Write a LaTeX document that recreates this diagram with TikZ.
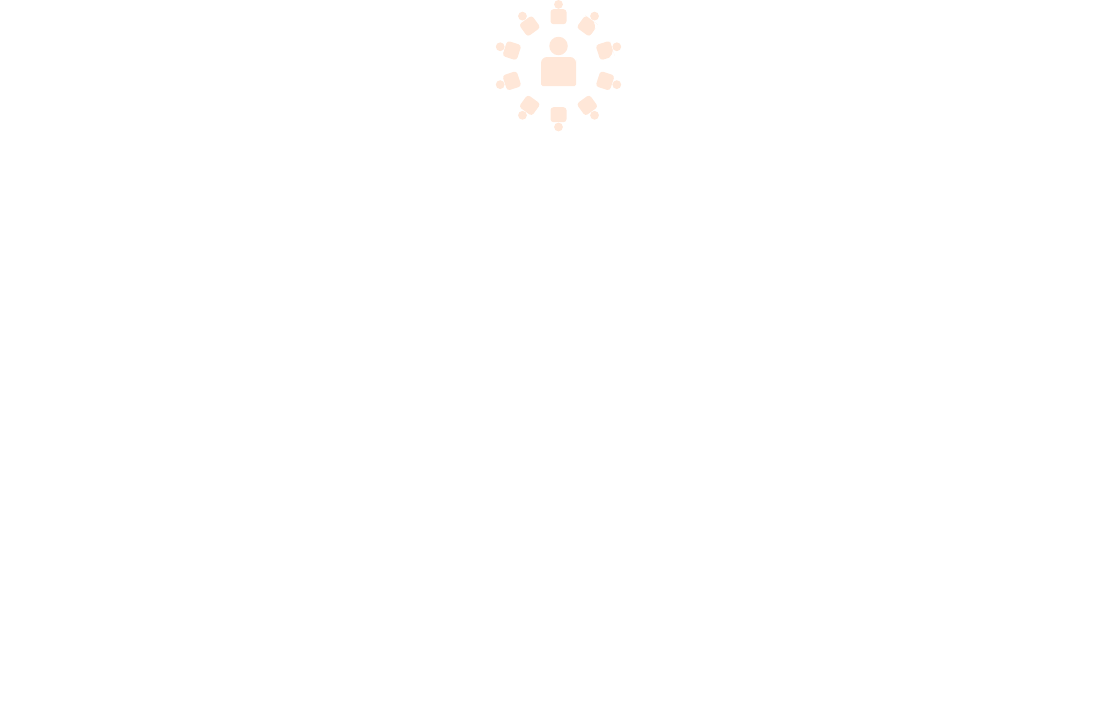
\documentclass[tikz,border=0pt]{standalone}
\definecolor{peach}{HTML}{FFE7D8}
\tikzset{
  bighead/.style={circle, fill=peach, inner sep=0pt, minimum size=18.5pt},
  smallhead/.style={circle, fill=peach, inner sep=0pt, minimum size=8.8pt},
  every path/.style={line width=0pt}
}
\begin{document}
\begin{tikzpicture}[x=1pt, y=1pt]
  \useasboundingbox (0,-712) rectangle (1112,0);
  \begin{scope}[shift={(558.5,-65.7)}]
    \node[bighead] (mainhead) at (0,19.7) {};
    \fill[peach] [rounded corners=1.5pt] (-17.5,-20.3) -- (-17.5,-12) [rounded corners=6pt] -- (-17.5,8.7) -- (17.5,8.7) -- (17.5,0) [rounded corners=1.5pt] -- (17.5,-20.3) -- cycle;
    \foreach \ang/\rad in {90/3, 54/8, 18/8, -18/3, -54/3, -90/3, -126/3, -162/3, 162/3, 126/3} {
      \node[smallhead] (head\ang) at (\ang:61.3) {};
      \begin{scope}[shift={(\ang:49)}, rotate=\ang-90]
        \fill[peach] [rounded corners=3pt] (-8,0) -- (-8,-7.5) -- (8,-7.5) -- (8,0) [rounded corners=\rad pt] -- (8,7.5) -- (0,7.5) [rounded corners=3pt] -- (-8,7.5) -- cycle;
      \end{scope}
    }
  \end{scope}
\end{tikzpicture}
\end{document}
